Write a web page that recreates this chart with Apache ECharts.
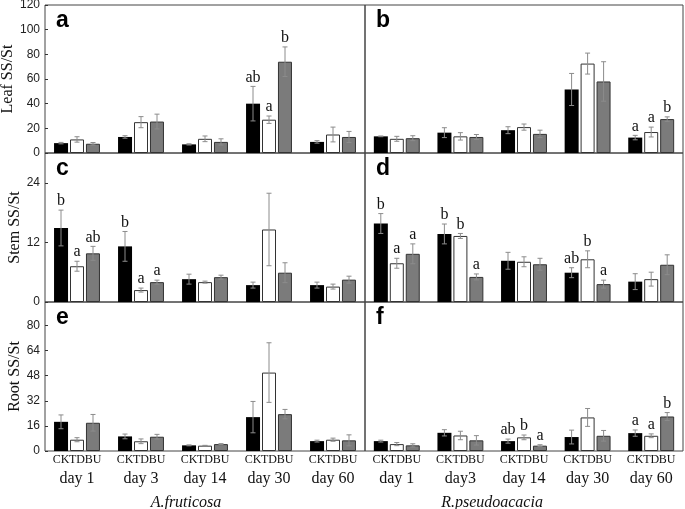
<!DOCTYPE html>
<html><head><meta charset="utf-8">
<script src="https://cdn.jsdelivr.net/npm/echarts@6/dist/echarts.min.js"></script>
<style>html,body{margin:0;padding:0;background:#fff}#c{width:685px;height:509px}</style>
</head><body><div id="c"></div>
<script>
const treatments = ['CK', 'TD', 'BU'];
const daysA = ['day 1', 'day 3', 'day 14', 'day 30', 'day 60'];
const daysR = ['day 1', 'day3', 'day 14', 'day 30', 'day 60'];

// rows: CK, TD, BU ; columns: day 1..day 60
const leafA_mean = [[8, 13, 7, 40, 9], [11, 25, 11.5, 27, 15], [7.5, 25.5, 9, 74, 13]];
const leafA_err  = [[0.6, 1, 0.5, 14, 1], [2.2, 4.5, 2.3, 3, 6], [1, 6, 2.5, 12, 4.5]];
const leafA_let  = [['', '', '', 'ab', ''], ['', '', '', 'a', ''], ['', '', '', 'b', '']];

const leafR_mean = [[13.5, 16.5, 18.5, 51.5, 12.5], [11.5, 13.5, 21, 72.5, 17], [12, 13, 15.5, 58, 27.5]];
const leafR_err  = [[0.3, 4, 2.8, 13, 1.8], [2, 3, 2.5, 8.5, 4], [2, 2, 3, 16, 1.8]];
const leafR_let  = [['', '', '', '', 'a'], ['', '', '', '', 'a'], ['', '', '', '', 'b']];

const stemA_mean = [[14.9, 11.2, 4.6, 3.4, 3.4], [7.2, 2.4, 4.0, 14.6, 3.1], [9.8, 4.0, 5.0, 5.9, 4.5]];
const stemA_err  = [[3.6, 3, 1, 0.6, 0.6], [1, 0.4, 0.2, 7.3, 0.5], [1.4, 0.4, 0.4, 2, 0.7]];
const stemA_let  = [['b', 'b', '', '', ''], ['a', 'a', '', '', ''], ['ab', 'a', '', '', '']];

const stemR_mean = [[15.8, 13.7, 8.3, 5.9, 4.1], [7.8, 13.3, 8.1, 8.6, 4.6], [9.7, 5.05, 7.6, 3.6, 7.5]];
const stemR_err  = [[2, 2, 1.7, 1, 1.6], [1, 0.5, 1, 1.7, 1.4], [2, 0.6, 1.2, 0.8, 2]];
const stemR_let  = [['b', 'b', '', 'ab', ''], ['a', 'b', '', 'b', ''], ['a', 'a', '', 'a', '']];

const rootA_mean = [[18.6, 9.3, 3.6, 21.6, 6.3], [7.2, 6.2, 3.4, 50, 7.2], [18, 9.1, 4.4, 23.5, 6.8]];
const rootA_err  = [[4.4, 1.5, 0.3, 10, 0.6], [1.3, 1.5, 0.2, 19, 1], [5.3, 1.5, 0.3, 3, 3.5]];
const rootA_let  = [['', '', '', '', ''], ['', '', '', '', ''], ['', '', '', '', '']];

const rootR_mean = [[6.3, 11.6, 6.3, 8.9, 11.4], [4.4, 9.9, 8.7, 21.4, 9.7], [3.6, 6.8, 3.4, 9.7, 22]];
const rootR_err  = [[0.6, 2, 1.3, 4.4, 2], [1, 2.7, 1.5, 5.7, 1.2], [1, 3, 0.6, 3.4, 2.5]];
const rootR_let  = [['', '', 'ab', '', 'a'], ['', '', 'b', '', 'a'], ['', '', 'a', '', 'b']];

const panelLetters = ['a', 'b', 'c', 'd', 'e', 'f'];
const yNames = ['Leaf SS/St', 'Stem SS/St', 'Root SS/St'];
const species = ['A.fruticosa', 'R.pseudoacacia'];

const panels = [
  [leafA_mean, leafA_err, leafA_let], [leafR_mean, leafR_err, leafR_let],
  [stemA_mean, stemA_err, stemA_let], [stemR_mean, stemR_err, stemR_let],
  [rootA_mean, rootA_err, rootA_let], [rootR_mean, rootR_err, rootR_let]
];
const yScales = [
  {max: 120, interval: 20}, {max: 30, interval: 12}, {max: 95, interval: 16}
];

const SERIF = 'Liberation Serif';
const SANS = 'Liberation Sans';
const colors = ['#000000', '#ffffff', '#7b7b7b'];
const offsets = [-16, 0, 16];

const rowTops = [5, 153, 302];
const rowH = [148, 149, 149];
const colLeft = [45, 365];
const colW = [320, 318];

const grid = [], xAxis = [], yAxis = [], series = [], title = [];
for (let p = 0; p < 6; p++) {
  const r = Math.floor(p / 2), c = p % 2;
  grid.push({left: colLeft[c], top: rowTops[r], width: colW[c], height: rowH[r],
    outerBoundsMode: 'none', containLabel: false,
    show: true, borderColor: '#444', borderWidth: 1, backgroundColor: 'transparent'});
  const bottom = r === 2;
  xAxis.push({
    type: 'category', gridIndex: p, data: c === 0 ? daysA : daysR,
    axisLine: {show: false}, axisTick: {show: false}, splitLine: {show: false},
    axisLabel: {
      show: bottom, interval: 0, margin: 1, fontFamily: SERIF, color: '#111',
      formatter: v => '{t|CK}{t|TD}{t|BU}\n{d|' + v + '}',
      rich: {
        t: {width: 16, align: 'center', fontFamily: SERIF, fontSize: 12, color: '#111', lineHeight: 15},
        d: {fontFamily: SERIF, fontSize: 16, color: '#111', lineHeight: 24}
      }
    },
    name: bottom ? species[c] : '', nameLocation: 'middle', nameGap: 44,
    nameTextStyle: {fontFamily: SERIF, fontStyle: 'italic', fontSize: 16, color: '#111',
      padding: c === 0 ? [0, 38, 0, 0] : [0, 64, 0, 0]}
  });
  const ys = yScales[r];
  yAxis.push({
    type: 'value', gridIndex: p, min: 0, max: ys.max, interval: ys.interval,
    axisLine: {show: false}, splitLine: {show: false},
    axisTick: {show: c === 0, inside: true, length: 3, lineStyle: {color: '#333'}},
    axisLabel: {show: c === 0, showMaxLabel: r === 0, margin: 5,
      fontFamily: SANS, fontSize: 12, color: '#222'},
    name: c === 0 ? yNames[r] : '', nameLocation: 'middle', nameRotate: 90, nameGap: 22,
    nameTextStyle: {fontFamily: SERIF, fontSize: 16, color: '#111'}
  });
  title.push({text: panelLetters[p], left: colLeft[c] + 6, top: rowTops[r] - 1,
    textStyle: {fontFamily: SANS, fontWeight: 'bold', fontSize: 23, color: '#000'}});

  const [means, errs, lets] = panels[p];
  for (let t = 0; t < 3; t++) {
    series.push({
      type: 'bar', name: treatments[t], xAxisIndex: p, yAxisIndex: p,
      data: means[t], barWidth: 14, barGap: '14%',
      itemStyle: {color: colors[t], borderColor: '#333', borderWidth: t === 0 ? 0 : 1},
      silent: true, animation: false, z: 2
    });
    const off = offsets[t];
    const e = errs[t], L = lets[t], m = means[t];
    series.push({
      type: 'custom', xAxisIndex: p, yAxisIndex: p, z: 5, animation: false, silent: true,
      data: m.map((v, i) => [i, v, e[i]]),
      renderItem: (params, api) => {
        const i = api.value(0), v = api.value(1), er = api.value(2);
        const hi = api.coord([i, v + er]);
        const lo = api.coord([i, v - er]);
        const x = hi[0] + off;
        const st = {stroke: '#8c8c8c', lineWidth: 1};
        const ch = [
          {type: 'line', shape: {x1: x, y1: hi[1], x2: x, y2: lo[1]}, style: st},
          {type: 'line', shape: {x1: x - 2.5, y1: hi[1], x2: x + 2.5, y2: hi[1]}, style: st},
          {type: 'line', shape: {x1: x - 2.5, y1: lo[1], x2: x + 2.5, y2: lo[1]}, style: st}
        ];
        const lt = L[params.dataIndex];
        if (lt) {
          ch.push({type: 'text', x: x, y: hi[1] - 1,
            style: {text: lt, fontFamily: SERIF, fontSize: 16, fill: '#111',
              align: 'center', verticalAlign: 'bottom'}});
        }
        return {type: 'group', children: ch};
      }
    });
  }
}

const chart = echarts.init(document.getElementById('c'), null, {renderer: 'canvas'});
chart.setOption({animation: false, backgroundColor: '#fff', title, grid, xAxis, yAxis, series});
</script>
</body></html>
